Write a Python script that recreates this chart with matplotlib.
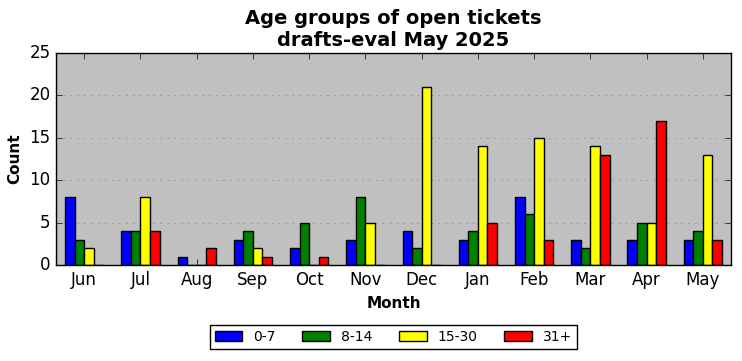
import matplotlib
matplotlib.use("Agg")
import matplotlib.pyplot as plt
import numpy as np

plt.style.use('classic')

months = ["Jun", "Jul", "Aug", "Sep", "Oct", "Nov", "Dec", "Jan", "Feb", "Mar", "Apr", "May"]
age_0_7 = [8, 4, 1, 3, 2, 3, 4, 3, 8, 3, 3, 3]
age_8_14 = [3, 4, 0, 4, 5, 8, 2, 4, 6, 2, 5, 4]
age_15_30 = [2, 8, 0, 2, 0, 5, 21, 14, 15, 14, 5, 13]
age_31_plus = [0, 4, 2, 1, 1, 0, 0, 5, 3, 13, 17, 3]

series = [("0-7", age_0_7, "blue"), ("8-14", age_8_14, "green"),
          ("15-30", age_15_30, "yellow"), ("31+", age_31_plus, "red")]

fig = plt.figure(figsize=(7.42, 3.61), dpi=100, facecolor="white")
ax = fig.add_axes([56/742, 1-265/361, 675/742, 212/361])
ax.set_facecolor("silver")
x = np.arange(len(months))
w = 0.17
for i, (lab, vals, col) in enumerate(series):
    ax.bar(x + (i - 1.5) * w, vals, w, color=col, edgecolor="black", linewidth=1, label=lab, align="center")

ax.set_xlim(-0.5, 11.5)
ax.set_ylim(0, 25)
ax.set_xticks(x)
ax.set_xticklabels(months, fontsize=12)
ax.set_yticks([0, 5, 10, 15, 20, 25])
ax.tick_params(axis='y', labelsize=12)
ax.yaxis.grid(True, linestyle=(0, (1, 4)), color="gray")
ax.xaxis.grid(False)
ax.set_axisbelow(True)
ax.set_xlabel("Month", fontsize=11, fontweight="bold")
ax.set_ylabel("Count", fontsize=11, fontweight="bold")
ax.set_title("Age groups of open tickets\ndrafts-eval May 2025", fontsize=14, fontweight="bold")
ax.legend(loc="upper center", bbox_to_anchor=(0.5, -0.25), ncol=4, fontsize=10, frameon=True,
          columnspacing=1.9, borderpad=0.35)

fig.savefig("out.png", dpi=100, facecolor="white")
